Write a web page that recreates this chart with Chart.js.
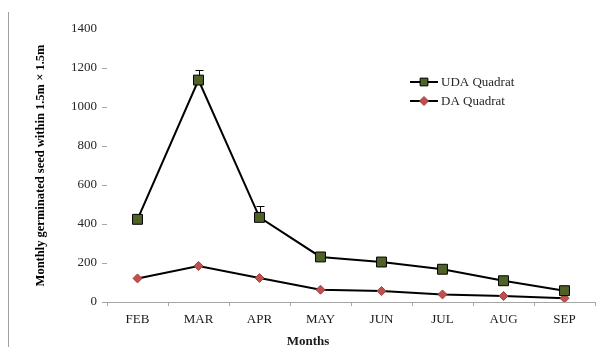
<!DOCTYPE html>
<html>
<head>
<meta charset="utf-8">
<script src="https://cdn.jsdelivr.net/npm/chart.js@4.4.1/dist/chart.umd.min.js"></script>
<style>
html,body{margin:0;padding:0;background:#fff;}
#wrap{position:relative;width:607px;height:354px;}
</style>
</head>
<body>
<div id="wrap"><canvas id="c" width="607" height="354"></canvas></div>
<script>
const months = ["FEB","MAR","APR","MAY","JUN","JUL","AUG","SEP"];
const udaValues = [424, 1138, 434, 231, 205, 168, 109, 58];
const udaErrors = [10, 52, 58, 8, 6, 6, 5, 4];
const daValues = [121, 185, 123, 63, 56, 39, 31, 19];
const yTicks = [0, 200, 400, 600, 800, 1000, 1200, 1400];
const seriesNames = ["UDA Quadrat", "DA Quadrat"];
const yTitle = "Monthly germinated seed within 1.5m \u00d7 1.5m";
const xTitle = "Months";

const SERIF = "'Liberation Serif','Times New Roman',serif";
const UDA_FILL = "#4f6228";
const DA_FILL = "#c0504d";

const decor = {
  id: "decor",
  beforeDraw(chart) {
    const ctx = chart.ctx;
    ctx.save();
    ctx.strokeStyle = "#a0a0a0";
    ctx.lineWidth = 1;
    ctx.beginPath();
    ctx.moveTo(8.5, 12);
    ctx.lineTo(8.5, 347);
    ctx.stroke();
    ctx.restore();
  },
  beforeDatasetsDraw(chart) {
    const ctx = chart.ctx;
    const meta = chart.getDatasetMeta(0);
    const y = chart.scales.y;
    ctx.save();
    ctx.strokeStyle = "#000";
    ctx.lineWidth = 1;
    meta.data.forEach((pt, i) => {
      const top = y.getPixelForValue(udaValues[i] + udaErrors[i]);
      const px = Math.round(pt.x) + 0.5;
      ctx.beginPath();
      ctx.moveTo(px, pt.y);
      ctx.lineTo(px, top);
      ctx.moveTo(px - 4, Math.round(top) + 0.5);
      ctx.lineTo(px + 4, Math.round(top) + 0.5);
      ctx.stroke();
    });
    ctx.restore();
  },
  afterDraw(chart) {
    const ctx = chart.ctx;
    ctx.save();
    ctx.fillStyle = "#1a1a1a";
    ctx.font = "bold 13px " + SERIF;
    ctx.textAlign = "center";
    ctx.textBaseline = "middle";
    ctx.fillText(xTitle, 308, 342);
    const rows = [
      {y: 82, fill: UDA_FILL, style: "rect"},
      {y: 101, fill: DA_FILL, style: "rectRot"}
    ];
    rows.forEach((r, i) => {
      ctx.strokeStyle = "#000";
      ctx.lineWidth = 2;
      ctx.beginPath();
      ctx.moveTo(410, r.y);
      ctx.lineTo(438, r.y);
      ctx.stroke();
      ctx.fillStyle = r.fill;
      ctx.strokeStyle = r.style === "rect" ? "#000" : "#a04040";
      ctx.lineWidth = 1;
      Chart.helpers.drawPoint(ctx, {pointStyle: r.style, radius: r.style === "rect" ? 5.5 : 4.5, borderWidth: 1}, 424, r.y);
      ctx.fillStyle = "#262626";
      ctx.font = "13px " + SERIF;
      ctx.textAlign = "left";
      ctx.textBaseline = "middle";
      ctx.fillText(seriesNames[i], 441, r.y + 1);
    });
    ctx.restore();
  }
};

new Chart(document.getElementById("c"), {
  type: "line",
  data: {
    labels: months,
    datasets: [
      {
        label: seriesNames[0],
        data: udaValues,
        borderColor: "#000",
        borderWidth: 2,
        pointStyle: "rect",
        pointRadius: 7,
        pointBackgroundColor: UDA_FILL,
        pointBorderColor: "#000",
        pointBorderWidth: 1,
        tension: 0
      },
      {
        label: seriesNames[1],
        data: daValues,
        borderColor: "#000",
        borderWidth: 2,
        pointStyle: "rectRot",
        pointRadius: 4.5,
        pointBackgroundColor: DA_FILL,
        pointBorderColor: "#a04040",
        pointBorderWidth: 1,
        tension: 0
      }
    ]
  },
  options: {
    responsive: false,
    animation: false,
    events: [],
    layout: {padding: {top: 29, right: 12, left: 0, bottom: 0}},
    plugins: {legend: {display: false}, tooltip: {enabled: false}},
    scales: {
      x: {
        offset: true,
        afterFit(s) { s.height = 52; },
        grid: {offset: true, drawOnChartArea: false, tickLength: 4, color: "#a6a6a6"},
        border: {display: true, color: "#a6a6a6", width: 1},
        ticks: {color: "#1a1a1a", font: {family: SERIF, size: 13}, padding: 6, maxRotation: 0, autoSkip: false}
      },
      y: {
        min: 0,
        max: 1400,
        afterFit(s) { s.width = 107; },
        afterBuildTicks(s) { s.ticks = yTicks.map(v => ({value: v})); },
        grid: {drawOnChartArea: false, tickLength: 5,
          color: c => (c.tick && c.tick.value === 1400) ? "rgba(0,0,0,0)" : "#a6a6a6"},
        border: {display: false},
        ticks: {color: "#262626", font: {family: SERIF, size: 13}, padding: 5, callback: v => String(v)},
        title: {
          display: true,
          text: yTitle,
          color: "#000",
          font: {family: SERIF, size: 12.5, weight: "bold"},
          padding: {top: 33, bottom: 0}
        }
      }
    }
  },
  plugins: [decor]
});
</script>
</body>
</html>
